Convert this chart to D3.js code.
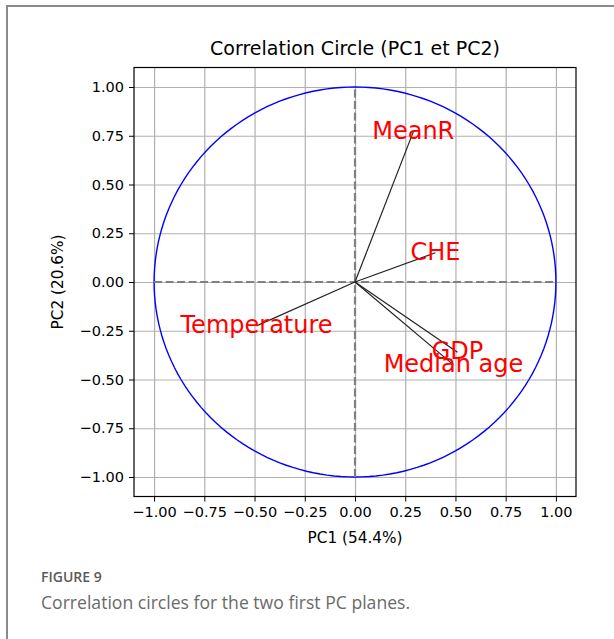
<!DOCTYPE html>
<html>
<head>
<meta charset="utf-8">
<script src="https://cdn.jsdelivr.net/npm/d3@7"></script>
<style>
  body { margin: 0; background: #fff; }
  svg { display: block; }
</style>
</head>
<body>
<svg width="614" height="639"></svg>
<script>
// loadings
const variables = ["MeanR", "CHE", "Temperature", "GDP", "Median age"];
const pc1 = [0.29, 0.40, -0.49, 0.51, 0.49];
const pc2 = [0.77, 0.15, -0.225, -0.36, -0.425];
const ticks = [-1.00, -0.75, -0.50, -0.25, 0.00, 0.25, 0.50, 0.75, 1.00];

const svg = d3.select("svg");
const font = "'DejaVu Sans', sans-serif";

// outer figure frame
svg.append("path")
  .attr("d", "M7,640 V6 H615")
  .attr("fill", "none")
  .attr("stroke", "#8a8a8a")
  .attr("stroke-width", 2);

const box = {left: 134, right: 576, top: 67.5, bottom: 496.5};

const x = d3.scaleLinear().domain([-1.1, 1.1]).range([box.left, box.right]);
const y = d3.scaleLinear().domain([-1.1, 1.1]).range([box.bottom, box.top]);

const g = svg.append("g");

// grid
g.append("g")
  .attr("transform", `translate(0,${box.bottom})`)
  .call(d3.axisBottom(x).tickValues(ticks).tickSize(-(box.bottom - box.top)).tickFormat(""))
  .call(a => a.select(".domain").remove())
  .selectAll("line").attr("stroke", "#b0b0b0").attr("stroke-width", 1.2);
g.append("g")
  .attr("transform", `translate(${box.left},0)`)
  .call(d3.axisLeft(y).tickValues(ticks).tickSize(-(box.right - box.left)).tickFormat(""))
  .call(a => a.select(".domain").remove())
  .selectAll("line").attr("stroke", "#b0b0b0").attr("stroke-width", 1.2);

// unit circle
const circ = d3.range(0, 361, 2).map(a => [Math.cos(a * Math.PI / 180), Math.sin(a * Math.PI / 180)]);
g.append("path")
  .datum(circ)
  .attr("d", d3.line().x(d => x(d[0])).y(d => y(d[1])))
  .attr("fill", "none")
  .attr("stroke", "#0000ff")
  .attr("stroke-width", 1.4);

// dashed axes through origin
g.append("line")
  .attr("x1", x(-1)).attr("x2", x(1)).attr("y1", y(0)).attr("y2", y(0))
  .attr("stroke", "#808080").attr("stroke-width", 2.2).attr("stroke-dasharray", "8,3.5");
g.append("line")
  .attr("x1", x(0)).attr("x2", x(0)).attr("y1", y(-1)).attr("y2", y(1))
  .attr("stroke", "#808080").attr("stroke-width", 2.2).attr("stroke-dasharray", "8,3.5");

// vectors
const data = variables.map((v, i) => ({name: v, x: pc1[i], y: pc2[i]}));
g.selectAll("line.vec")
  .data(data)
  .join("line")
  .attr("class", "vec")
  .attr("x1", x(0)).attr("y1", y(0))
  .attr("x2", d => x(d.x)).attr("y2", d => y(d.y))
  .attr("stroke", "#222")
  .attr("stroke-width", 1.2);

g.selectAll("text.lab")
  .data(data)
  .join("text")
  .attr("class", "lab")
  .attr("x", d => x(d.x))
  .attr("y", d => y(d.y))
  .attr("dy", "0.3em")
  .attr("text-anchor", "middle")
  .attr("fill", "#ff0000")
  .style("font-family", font)
  .style("font-size", "24px")
  .text(d => d.name);

// axes frame
g.append("rect")
  .attr("x", box.left).attr("y", box.top)
  .attr("width", box.right - box.left).attr("height", box.bottom - box.top)
  .attr("fill", "none").attr("stroke", "#000").attr("stroke-width", 1.2);

const fmt = d => (d < 0 ? "\u2212" : "") + Math.abs(d).toFixed(2);

const xAxis = g.append("g")
  .attr("transform", `translate(0,${box.bottom})`)
  .call(d3.axisBottom(x).tickValues(ticks).tickSize(5).tickPadding(5).tickFormat(fmt));
xAxis.select(".domain").remove();
xAxis.selectAll("text").style("font-family", font).style("font-size", "14.5px").attr("fill", "#000");

const yAxis = g.append("g")
  .attr("transform", `translate(${box.left},0)`)
  .call(d3.axisLeft(y).tickValues(ticks).tickSize(5).tickPadding(5).tickFormat(fmt));
yAxis.select(".domain").remove();
yAxis.selectAll("text").style("font-family", font).style("font-size", "14.5px").attr("fill", "#000");

// title and axis labels
svg.append("text")
  .attr("x", (box.left + box.right) / 2).attr("y", 55)
  .attr("text-anchor", "middle")
  .style("font-family", font).style("font-size", "19px")
  .text("Correlation Circle (PC1 et PC2)");

svg.append("text")
  .attr("x", (box.left + box.right) / 2).attr("y", 543)
  .attr("text-anchor", "middle")
  .style("font-family", font).style("font-size", "15.3px")
  .text("PC1 (54.4%)");

svg.append("text")
  .attr("transform", `translate(63,${(box.top + box.bottom) / 2}) rotate(-90)`)
  .attr("text-anchor", "middle")
  .style("font-family", font).style("font-size", "15.3px")
  .text("PC2 (20.6%)");

// caption
svg.append("text")
  .attr("x", 41).attr("y", 582)
  .style("font-family", "'Open Sans', sans-serif").style("font-size", "14px")
  .style("font-weight", 600)
  .attr("fill", "#5a5a5a")
  .text("FIGURE 9");

svg.append("text")
  .attr("x", 41).attr("y", 609)
  .style("font-family", "'Open Sans', sans-serif").style("font-size", "17.6px")
  .attr("fill", "#6a6a6a")
  .text("Correlation circles for the two first PC planes.");
</script>
</body>
</html>
